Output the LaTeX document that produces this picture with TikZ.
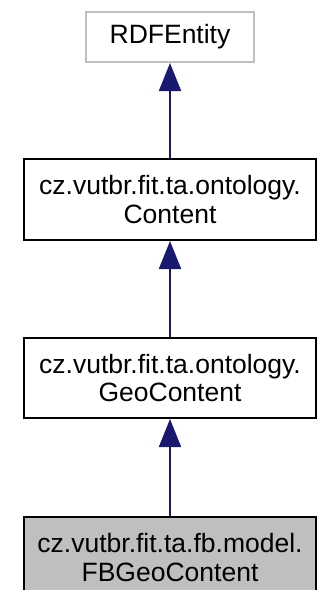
\documentclass[tikz,border=0pt]{standalone}
\usepackage{fontspec}
\setmainfont{Liberation Sans}
\usetikzlibrary{arrows.meta}
\definecolor{edgeblue}{HTML}{191970}
\definecolor{grayborder}{HTML}{BFBFBF}
\definecolor{grayfill}{HTML}{BFBFBF}
\tikzset{
  cls/.style={draw=black, line width=2pt, fill=white, inner sep=0pt, align=center,
    font=\fontsize{26.5}{28.5}\selectfont, text=black},
  inherit/.style={draw=edgeblue, line width=2pt,
    -{Triangle[length=28pt,width=22pt,fill=edgeblue]}}
}
\begin{document}
\begin{tikzpicture}[x=1pt,y=-1pt]
\useasboundingbox (0,0) rectangle (320,590);
\node[cls, draw=grayborder, minimum width=168pt, minimum height=50pt] (rdf) at (170,37) {RDFEntity};
\node[cls, minimum width=292pt, minimum height=81pt] (content) at (170,199.5) {cz.vutbr.fit.ta.ontology.\\Content};
\node[cls, minimum width=292pt, minimum height=80pt] (geo) at (170,378) {cz.vutbr.fit.ta.ontology.\\GeoContent};
\node[cls, fill=grayfill, minimum width=292pt, minimum height=81pt] (fb) at (170,557.5) {cz.vutbr.fit.ta.fb.model.\\FBGeoContent};
\draw[inherit] (content.north) -- (rdf.south);
\draw[inherit] (geo.north) -- (content.south);
\draw[inherit] (fb.north) -- (geo.south);
\end{tikzpicture}
\end{document}
